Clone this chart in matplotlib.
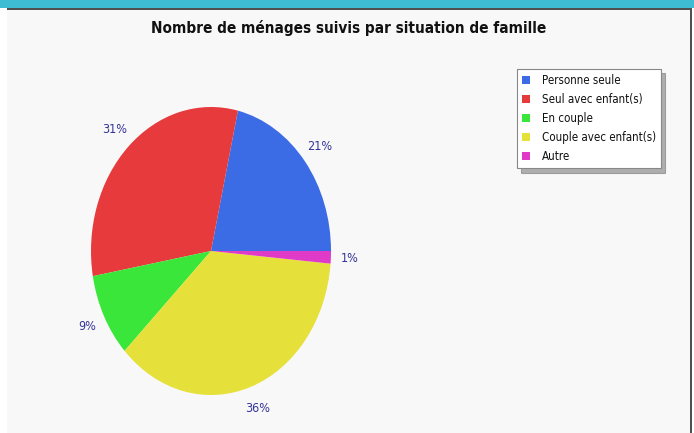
import matplotlib

matplotlib.use("Agg")
import matplotlib.pyplot as plt
from matplotlib.patches import Rectangle, Patch

categories = ["Personne seule", "Seul avec enfant(s)", "En couple",
              "Couple avec enfant(s)", "Autre"]
values = [21.4, 31.4, 9.4, 36.4, 1.4]
colors = ["#3b6ce6", "#e63a3c", "#3ae63a", "#e6e03a", "#e03ac8"]
title = "Nombre de ménages suivis par situation de famille"

W, H = 694, 433
fig = plt.figure(figsize=(W / 100, H / 100), dpi=100, facecolor="white")


def px_rect(x0, y0, x1, y1, color):
    # rectangle in pixel coords measured from the top-left corner
    fig.patches.append(Rectangle((x0 / W, 1 - y1 / H), (x1 - x0) / W, (y1 - y0) / H,
                                 transform=fig.transFigure, facecolor=color,
                                 edgecolor="none", zorder=-5))


# frame around the chart panel
px_rect(0, 0, W, 8, "#3dbcd3")
px_rect(7, 9, 691, H, "#f8f8f8")
px_rect(7, 8, 691, 10, "#505050")
px_rect(690, 8, 692, H, "#505050")

fig.text(349 / W, 1 - 28 / H, title, ha="center", va="center",
         fontsize=11, fontweight="bold", fontstretch="condensed", color="#111111")

ax = fig.add_axes([91 / W, 1 - 395 / H, 240 / W, 288 / H])
ax.set_zorder(2)
wedges, texts, pcts = ax.pie(values, colors=colors, startangle=0, counterclock=True,
                             autopct="%1.0f%%", pctdistance=1.16,
                             textprops=dict(fontsize=9, color="#333399",
                                            fontstretch="condensed"))
ax.set_aspect("auto")
ax.set_xlim(-1, 1)
ax.set_ylim(-1, 1)
ax.axis("off")

handles = [Patch(facecolor=c, edgecolor="none") for c in colors]
leg = fig.legend(handles, categories, loc="upper left",
                 bbox_to_anchor=(517 / W, 1 - 69 / H), frameon=True,
                 fancybox=False, shadow={"color": "#666666", "ox": 3, "oy": -3},
                 prop=dict(size=8.3, stretch="condensed"),
                 labelspacing=0.52, handlelength=0.72, handleheight=0.72,
                 handletextpad=1.0, borderpad=0.45, borderaxespad=0)
leg.set_zorder(3)
leg.get_frame().set_edgecolor("#888888")
leg.get_frame().set_facecolor("white")
leg.get_frame().set_linewidth(0.8)
for t in leg.get_texts():
    t.set_color("#111111")

fig.savefig("out.png", dpi=100, facecolor=fig.get_facecolor())
